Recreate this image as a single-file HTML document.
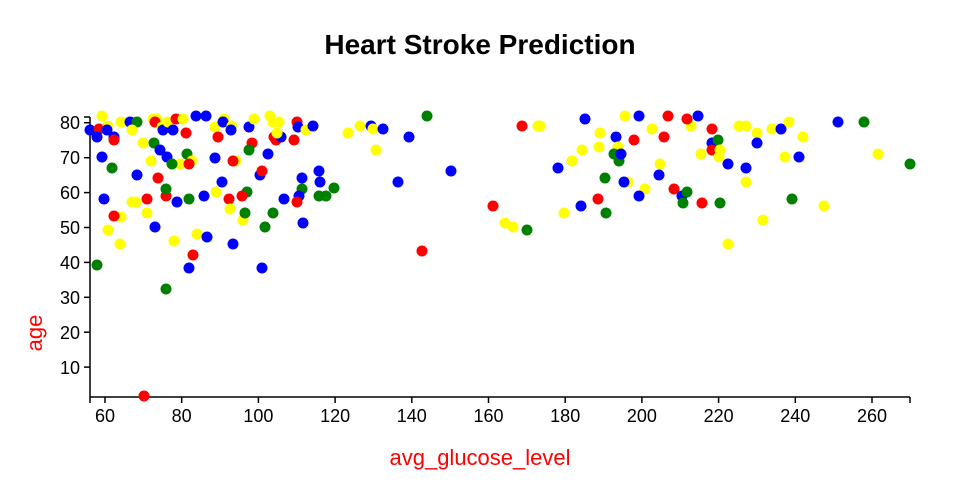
<!DOCTYPE html>
<html><head><meta charset="utf-8"><style>
html,body{margin:0;padding:0;background:#fff;}
svg{display:block;font-family:"Liberation Sans",sans-serif;}
</style></head><body>
<svg width="960" height="500" viewBox="0 0 960 500" xmlns="http://www.w3.org/2000/svg">
<text x="480" y="54" text-anchor="middle" font-size="28" font-weight="bold" fill="#000">Heart Stroke Prediction</text>
<g stroke="#000" stroke-width="1.5" fill="none">
<line x1="90" y1="117" x2="90" y2="397"/>
<line x1="90" y1="397" x2="910" y2="397"/>
<line x1="84" y1="117" x2="90" y2="117"/>
<line x1="84" y1="122.7" x2="90" y2="122.7"/>
<line x1="84" y1="157.7" x2="90" y2="157.7"/>
<line x1="84" y1="192.6" x2="90" y2="192.6"/>
<line x1="84" y1="227.5" x2="90" y2="227.5"/>
<line x1="84" y1="262.4" x2="90" y2="262.4"/>
<line x1="84" y1="297.3" x2="90" y2="297.3"/>
<line x1="84" y1="332.2" x2="90" y2="332.2"/>
<line x1="84" y1="367.1" x2="90" y2="367.1"/>
<line x1="90" y1="397" x2="90" y2="403"/>
<line x1="105" y1="397" x2="105" y2="403"/>
<line x1="181.7" y1="397" x2="181.7" y2="403"/>
<line x1="258.4" y1="397" x2="258.4" y2="403"/>
<line x1="335.1" y1="397" x2="335.1" y2="403"/>
<line x1="411.8" y1="397" x2="411.8" y2="403"/>
<line x1="488.5" y1="397" x2="488.5" y2="403"/>
<line x1="565.2" y1="397" x2="565.2" y2="403"/>
<line x1="641.9" y1="397" x2="641.9" y2="403"/>
<line x1="718.6" y1="397" x2="718.6" y2="403"/>
<line x1="795.3" y1="397" x2="795.3" y2="403"/>
<line x1="872" y1="397" x2="872" y2="403"/>
<line x1="910" y1="397" x2="910" y2="403"/>
</g>
<g font-size="18" fill="#000" text-anchor="end">
<text x="80" y="129">80</text><text x="80" y="164">70</text><text x="80" y="199">60</text>
<text x="80" y="234">50</text><text x="80" y="269">40</text><text x="80" y="304">30</text>
<text x="80" y="339">20</text><text x="80" y="374">10</text>
</g>
<g font-size="18" fill="#000" text-anchor="middle">
<text x="105" y="422">60</text><text x="181.7" y="422">80</text><text x="258.4" y="422">100</text>
<text x="335.1" y="422">120</text><text x="411.8" y="422">140</text><text x="488.5" y="422">160</text>
<text x="565.2" y="422">180</text><text x="641.9" y="422">200</text><text x="718.6" y="422">220</text>
<text x="795.3" y="422">240</text><text x="872" y="422">260</text>
</g>
<text x="480" y="465" text-anchor="middle" font-size="22" fill="#f00">avg_glucose_level</text>
<text transform="translate(42,333) rotate(-90)" text-anchor="middle" font-size="22" fill="#f00">age</text>
<g id="d">
<script>/* none */</script>
</g>
<g>
<circle cx="90" cy="130" r="5.5" fill="#00f"/><circle cx="99" cy="129" r="5.5" fill="#f00"/><circle cx="102" cy="116" r="5.5" fill="#ff0"/><circle cx="108" cy="126" r="5.5" fill="#ff0"/><circle cx="107" cy="130" r="5.5" fill="#00f"/><circle cx="97" cy="137" r="5.5" fill="#00f"/><circle cx="114" cy="137" r="5.5" fill="#00f"/><circle cx="114" cy="140" r="5.5" fill="#f00"/><circle cx="102" cy="157" r="5.5" fill="#00f"/><circle cx="112" cy="168" r="5.5" fill="#008000"/><circle cx="121" cy="122" r="5.5" fill="#ff0"/><circle cx="130" cy="122" r="5.5" fill="#00f"/><circle cx="137" cy="122" r="5.5" fill="#008000"/><circle cx="132" cy="130" r="5.5" fill="#ff0"/><circle cx="143" cy="143" r="5.5" fill="#ff0"/><circle cx="154" cy="143" r="5.5" fill="#008000"/><circle cx="160" cy="150" r="5.5" fill="#00f"/><circle cx="167" cy="157" r="5.5" fill="#00f"/><circle cx="151" cy="161" r="5.5" fill="#ff0"/><circle cx="180" cy="164" r="5.5" fill="#ff0"/><circle cx="172" cy="164" r="5.5" fill="#008000"/><circle cx="137" cy="175" r="5.5" fill="#00f"/><circle cx="158" cy="178" r="5.5" fill="#f00"/><circle cx="166" cy="196" r="5.5" fill="#f00"/><circle cx="166" cy="189" r="5.5" fill="#008000"/><circle cx="104" cy="199" r="5.5" fill="#00f"/><circle cx="132" cy="202" r="5.5" fill="#ff0"/><circle cx="136" cy="202" r="5.5" fill="#ff0"/><circle cx="147" cy="199" r="5.5" fill="#f00"/><circle cx="177" cy="202" r="5.5" fill="#00f"/><circle cx="189" cy="199" r="5.5" fill="#008000"/><circle cx="204" cy="196" r="5.5" fill="#00f"/><circle cx="121" cy="217" r="5.5" fill="#ff0"/><circle cx="114" cy="216" r="5.5" fill="#f00"/><circle cx="147" cy="213" r="5.5" fill="#ff0"/><circle cx="108" cy="230" r="5.5" fill="#ff0"/><circle cx="120" cy="244" r="5.5" fill="#ff0"/><circle cx="155" cy="227" r="5.5" fill="#00f"/><circle cx="97" cy="265" r="5.5" fill="#008000"/><circle cx="166" cy="289" r="5.5" fill="#008000"/><circle cx="144" cy="396" r="5.5" fill="#f00"/><circle cx="174" cy="241" r="5.5" fill="#ff0"/><circle cx="197" cy="234" r="5.5" fill="#ff0"/><circle cx="207" cy="237" r="5.5" fill="#00f"/><circle cx="193" cy="255" r="5.5" fill="#f00"/><circle cx="189" cy="268" r="5.5" fill="#00f"/><circle cx="233" cy="244" r="5.5" fill="#00f"/><circle cx="262" cy="268" r="5.5" fill="#00f"/>
<circle cx="153" cy="119" r="5.5" fill="#ff0"/><circle cx="157" cy="119" r="5.5" fill="#ff0"/><circle cx="155" cy="122" r="5.5" fill="#f00"/><circle cx="162" cy="127" r="5.5" fill="#ff0"/><circle cx="163" cy="130" r="5.5" fill="#00f"/><circle cx="168" cy="122" r="5.5" fill="#ff0"/><circle cx="176" cy="119" r="5.5" fill="#f00"/><circle cx="183" cy="119" r="5.5" fill="#ff0"/><circle cx="173" cy="130" r="5.5" fill="#00f"/><circle cx="186" cy="133" r="5.5" fill="#f00"/><circle cx="196" cy="116" r="5.5" fill="#00f"/><circle cx="206" cy="116" r="5.5" fill="#00f"/><circle cx="215" cy="127" r="5.5" fill="#ff0"/><circle cx="224" cy="119" r="5.5" fill="#ff0"/><circle cx="223" cy="122" r="5.5" fill="#00f"/><circle cx="232" cy="126" r="5.5" fill="#ff0"/><circle cx="231" cy="130" r="5.5" fill="#00f"/><circle cx="218" cy="137" r="5.5" fill="#f00"/><circle cx="215" cy="158" r="5.5" fill="#00f"/><circle cx="187" cy="154" r="5.5" fill="#008000"/><circle cx="192" cy="161" r="5.5" fill="#ff0"/><circle cx="189" cy="164" r="5.5" fill="#f00"/><circle cx="236" cy="161" r="5.5" fill="#ff0"/><circle cx="233" cy="161" r="5.5" fill="#f00"/><circle cx="249" cy="127" r="5.5" fill="#00f"/><circle cx="254" cy="119" r="5.5" fill="#ff0"/><circle cx="252" cy="143" r="5.5" fill="#f00"/><circle cx="249" cy="150" r="5.5" fill="#008000"/><circle cx="268" cy="154" r="5.5" fill="#00f"/><circle cx="260" cy="175" r="5.5" fill="#00f"/><circle cx="262" cy="171" r="5.5" fill="#f00"/><circle cx="222" cy="182" r="5.5" fill="#00f"/><circle cx="247" cy="192" r="5.5" fill="#008000"/><circle cx="242" cy="196" r="5.5" fill="#f00"/><circle cx="229" cy="199" r="5.5" fill="#f00"/><circle cx="216" cy="192" r="5.5" fill="#ff0"/><circle cx="230" cy="209" r="5.5" fill="#ff0"/><circle cx="243" cy="220" r="5.5" fill="#ff0"/><circle cx="245" cy="213" r="5.5" fill="#008000"/><circle cx="265" cy="227" r="5.5" fill="#008000"/><circle cx="273" cy="213" r="5.5" fill="#008000"/><circle cx="284" cy="199" r="5.5" fill="#00f"/><circle cx="270" cy="116" r="5.5" fill="#ff0"/><circle cx="273" cy="122" r="5.5" fill="#ff0"/><circle cx="279" cy="122" r="5.5" fill="#ff0"/><circle cx="274" cy="137" r="5.5" fill="#f00"/><circle cx="276" cy="140" r="5.5" fill="#f00"/><circle cx="281" cy="137" r="5.5" fill="#00f"/><circle cx="277" cy="133" r="5.5" fill="#ff0"/><circle cx="297" cy="122" r="5.5" fill="#f00"/><circle cx="298" cy="127" r="5.5" fill="#00f"/><circle cx="306" cy="130" r="5.5" fill="#ff0"/><circle cx="313" cy="126" r="5.5" fill="#00f"/><circle cx="294" cy="140" r="5.5" fill="#f00"/><circle cx="319" cy="171" r="5.5" fill="#00f"/><circle cx="320" cy="182" r="5.5" fill="#00f"/><circle cx="302" cy="178" r="5.5" fill="#00f"/><circle cx="302" cy="189" r="5.5" fill="#008000"/><circle cx="299" cy="196" r="5.5" fill="#00f"/><circle cx="297" cy="202" r="5.5" fill="#f00"/><circle cx="303" cy="223" r="5.5" fill="#00f"/><circle cx="319" cy="196" r="5.5" fill="#008000"/><circle cx="326" cy="196" r="5.5" fill="#008000"/>
<circle cx="427" cy="116" r="5.5" fill="#008000"/><circle cx="348" cy="133" r="5.5" fill="#ff0"/><circle cx="360" cy="126" r="5.5" fill="#ff0"/><circle cx="371" cy="126" r="5.5" fill="#00f"/><circle cx="373" cy="129" r="5.5" fill="#ff0"/><circle cx="383" cy="129" r="5.5" fill="#00f"/><circle cx="409" cy="137" r="5.5" fill="#00f"/><circle cx="376" cy="150" r="5.5" fill="#ff0"/><circle cx="334" cy="188" r="5.5" fill="#008000"/><circle cx="398" cy="182" r="5.5" fill="#00f"/><circle cx="451" cy="171" r="5.5" fill="#00f"/><circle cx="522" cy="126" r="5.5" fill="#f00"/><circle cx="538" cy="126" r="5.5" fill="#ff0"/><circle cx="493" cy="206" r="5.5" fill="#f00"/><circle cx="505" cy="223" r="5.5" fill="#ff0"/><circle cx="513" cy="227" r="5.5" fill="#ff0"/><circle cx="527" cy="230" r="5.5" fill="#008000"/><circle cx="422" cy="251" r="5.5" fill="#f00"/>
<circle cx="585" cy="119" r="5.5" fill="#00f"/><circle cx="625" cy="116" r="5.5" fill="#ff0"/><circle cx="639" cy="116" r="5.5" fill="#00f"/><circle cx="668" cy="116" r="5.5" fill="#f00"/><circle cx="691" cy="126" r="5.5" fill="#ff0"/><circle cx="687" cy="119" r="5.5" fill="#f00"/><circle cx="698" cy="116" r="5.5" fill="#00f"/><circle cx="600" cy="133" r="5.5" fill="#ff0"/><circle cx="616" cy="137" r="5.5" fill="#00f"/><circle cx="634" cy="140" r="5.5" fill="#f00"/><circle cx="652" cy="129" r="5.5" fill="#ff0"/><circle cx="664" cy="137" r="5.5" fill="#f00"/><circle cx="712" cy="129" r="5.5" fill="#f00"/><circle cx="712" cy="143" r="5.5" fill="#00f"/><circle cx="718" cy="140" r="5.5" fill="#008000"/><circle cx="712" cy="150" r="5.5" fill="#f00"/><circle cx="720" cy="150" r="5.5" fill="#ff0"/><circle cx="719" cy="157" r="5.5" fill="#ff0"/><circle cx="701" cy="154" r="5.5" fill="#ff0"/><circle cx="739" cy="126" r="5.5" fill="#ff0"/><circle cx="746" cy="126" r="5.5" fill="#ff0"/><circle cx="757" cy="133" r="5.5" fill="#ff0"/><circle cx="757" cy="143" r="5.5" fill="#00f"/><circle cx="772" cy="129" r="5.5" fill="#ff0"/><circle cx="781" cy="129" r="5.5" fill="#00f"/><circle cx="789" cy="122" r="5.5" fill="#ff0"/><circle cx="803" cy="137" r="5.5" fill="#ff0"/><circle cx="838" cy="122" r="5.5" fill="#00f"/><circle cx="864" cy="122" r="5.5" fill="#008000"/><circle cx="878" cy="154" r="5.5" fill="#ff0"/><circle cx="910" cy="164" r="5.5" fill="#008000"/><circle cx="582" cy="150" r="5.5" fill="#ff0"/><circle cx="599" cy="147" r="5.5" fill="#ff0"/><circle cx="618" cy="147" r="5.5" fill="#ff0"/><circle cx="614" cy="154" r="5.5" fill="#008000"/><circle cx="619" cy="161" r="5.5" fill="#008000"/><circle cx="621" cy="154" r="5.5" fill="#00f"/><circle cx="572" cy="161" r="5.5" fill="#ff0"/><circle cx="558" cy="168" r="5.5" fill="#00f"/><circle cx="660" cy="164" r="5.5" fill="#ff0"/><circle cx="728" cy="164" r="5.5" fill="#00f"/><circle cx="746" cy="168" r="5.5" fill="#00f"/><circle cx="785" cy="157" r="5.5" fill="#ff0"/><circle cx="799" cy="157" r="5.5" fill="#00f"/><circle cx="605" cy="178" r="5.5" fill="#008000"/><circle cx="628" cy="182" r="5.5" fill="#ff0"/><circle cx="624" cy="182" r="5.5" fill="#00f"/><circle cx="659" cy="175" r="5.5" fill="#00f"/><circle cx="746" cy="182" r="5.5" fill="#ff0"/><circle cx="645" cy="189" r="5.5" fill="#ff0"/><circle cx="639" cy="196" r="5.5" fill="#00f"/><circle cx="674" cy="189" r="5.5" fill="#f00"/><circle cx="682" cy="196" r="5.5" fill="#00f"/><circle cx="687" cy="192" r="5.5" fill="#008000"/><circle cx="683" cy="203" r="5.5" fill="#008000"/><circle cx="702" cy="203" r="5.5" fill="#f00"/><circle cx="720" cy="203" r="5.5" fill="#008000"/><circle cx="792" cy="199" r="5.5" fill="#008000"/><circle cx="598" cy="199" r="5.5" fill="#f00"/><circle cx="581" cy="206" r="5.5" fill="#00f"/><circle cx="564" cy="213" r="5.5" fill="#ff0"/><circle cx="606" cy="213" r="5.5" fill="#008000"/><circle cx="824" cy="206" r="5.5" fill="#ff0"/><circle cx="763" cy="220" r="5.5" fill="#ff0"/><circle cx="728" cy="244" r="5.5" fill="#ff0"/><circle cx="540" cy="126" r="5.5" fill="#ff0"/>
</g>
</svg>
</body></html>
